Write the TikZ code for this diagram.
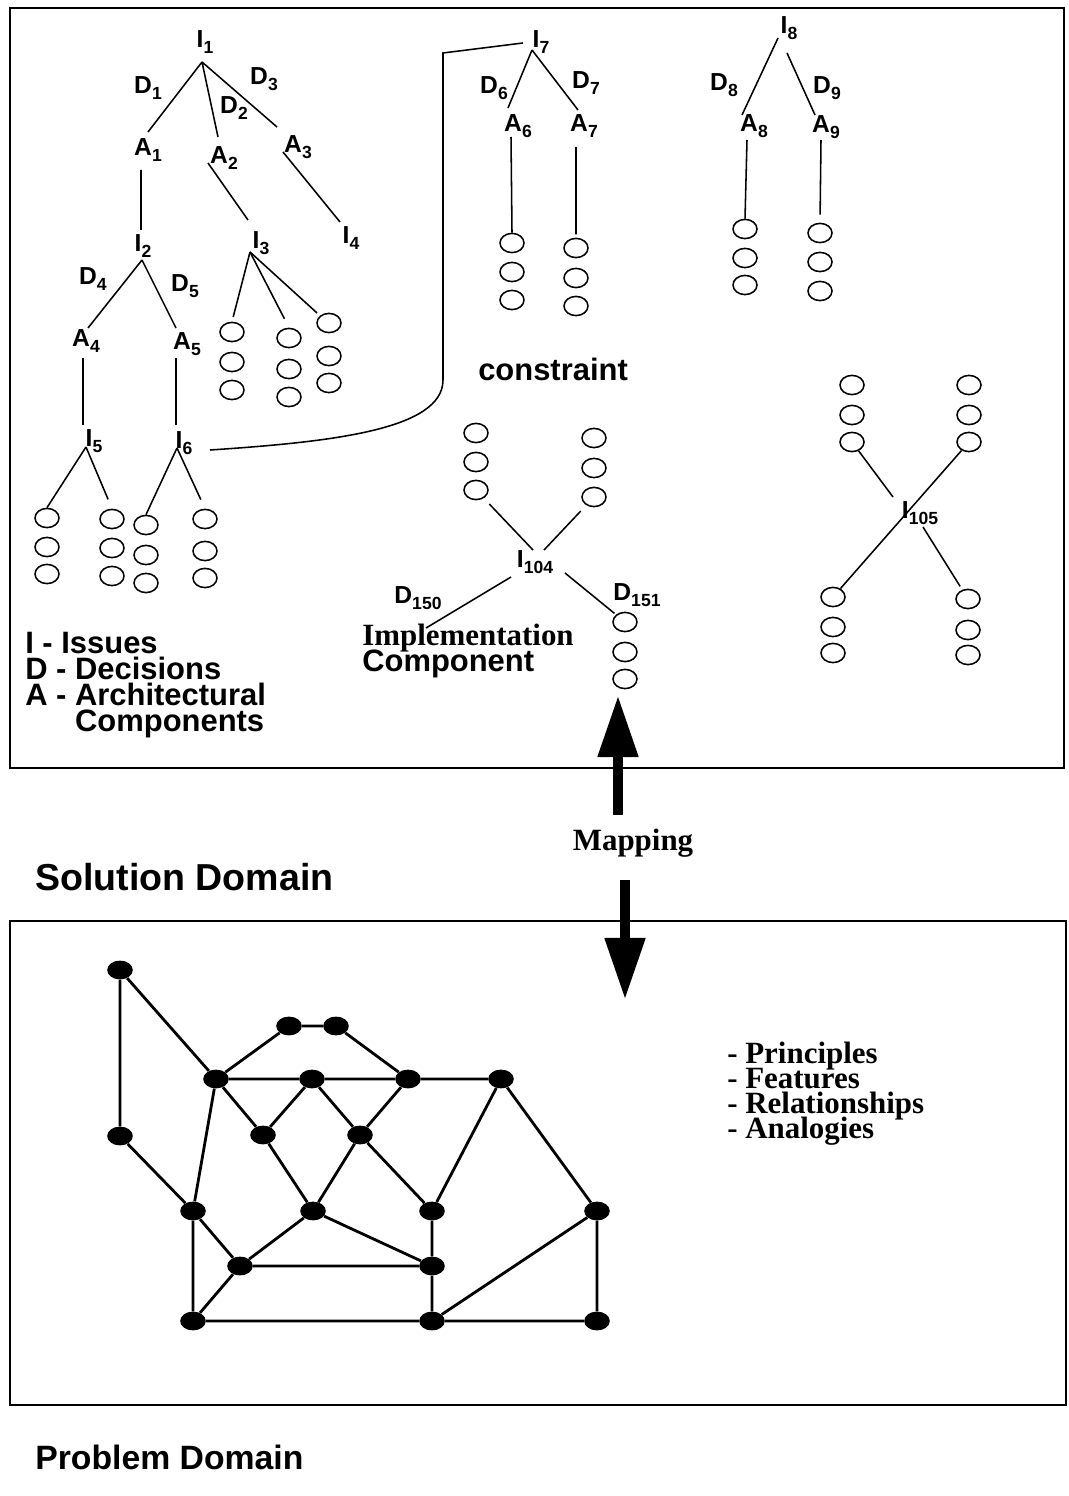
\documentclass[tikz,border=0pt]{standalone}
\usepackage{fontspec}
\setmainfont{Liberation Serif}
\setsansfont{Liberation Sans}
\usepackage{tikz}
\usetikzlibrary{positioning}
\usetikzlibrary{shapes.geometric, arrows.meta}
\newcommand{\sbs}[1]{\raisebox{-0.45ex}{\fontsize{12.5pt}{12.5pt}\selectfont #1}}
% three small rings one above the other
\newcommand{\stk}[5]{%
\node[ring] (#1a) at (#2,#3) {};
\node[ring] (#1b) at (#2,#4) {};
\node[ring] (#1c) at (#2,#5) {};}
\tikzstyle{lbl} = [font=\sffamily\bfseries\fontsize{17.5pt}{17.5pt}\selectfont, inner sep=0pt]
\tikzstyle{ring} = [ellipse, draw, line width=1.1pt, minimum width=0.6cm, minimum height=0.48cm, inner sep=0pt]
\tikzstyle{dot} = [ellipse, fill=black, minimum width=0.64cm, minimum height=0.47cm, inner sep=0pt]
\tikzstyle{link} = [line width=1.1pt]
\tikzstyle{edge} = [line width=2pt]
\tikzstyle{txt} = [font=\sffamily\bfseries\fontsize{22pt}{22pt}\selectfont, inner sep=0pt, anchor=west]
\tikzstyle{serif} = [font=\rmfamily\bfseries\fontsize{22pt}{22pt}\selectfont, inner sep=0pt, anchor=west]
\tikzstyle{block} = [inner sep=0pt, anchor=north west, align=left]
\tikzstyle{fat} = [line width=7.8pt, -{Triangle[length=1.55cm, width=0.95cm]}]

\begin{document}
\lineskiplimit=-30pt
\begin{tikzpicture}[x=0.025cm, y=-0.025cm]
\useasboundingbox (0,0) rectangle (1069,1496);
\draw[line width=1.4pt] (10,8) rectangle (1064,768);
\draw[line width=1.4pt] (10,921) rectangle (1066,1405);

% first tree
\node[lbl] (I1) at (205,42) {I\sbs{1}};
\node[lbl] (D1) at (148,88) {D\sbs{1}};
\node[lbl] (D2) at (234,108) {D\sbs{2}};
\node[lbl] (D3) at (264,79) {D\sbs{3}};
\node[lbl] (A1) at (148,150) {A\sbs{1}};
\node[lbl] (A2) at (224,158) {A\sbs{2}};
\node[lbl] (A3) at (298,147) {A\sbs{3}};
\node[lbl] (I2) at (143,246) {I\sbs{2}};
\node[lbl] (I3) at (261,243) {I\sbs{3}};
\node[lbl] (I4) at (351,238) {I\sbs{4}};
\node[lbl] (D4) at (93,279) {D\sbs{4}};
\node[lbl] (D5) at (185,286) {D\sbs{5}};
\node[lbl] (A4) at (86,341) {A\sbs{4}};
\node[lbl] (A5) at (187,344) {A\sbs{5}};
\node[lbl] (I5) at (94,441) {I\sbs{5}};
\node[lbl] (I6) at (184,443) {I\sbs{6}};
\coordinate (I1b) at (202,62);
\coordinate (A1t) at (148,132);
\coordinate (A1b) at (141,170);
\coordinate (A2t) at (218,137);
\coordinate (A2b) at (208,163);
\coordinate (A3t) at (277,127);
\coordinate (A3b) at (283,152);
\coordinate (I2t) at (141,230);
\coordinate (I2b) at (142,260);
\coordinate (I3t) at (248,220);
\coordinate (I3b) at (250,252);
\coordinate (I4t) at (340,222);
\coordinate (A4t) at (88,328);
\coordinate (A4b) at (83,358);
\coordinate (A5t) at (176,328);
\coordinate (A5b) at (176,358);
\coordinate (I5t) at (83,425);
\coordinate (I5b) at (86,447);
\coordinate (I6t) at (176,425);
\coordinate (I6b) at (177,448);
\stk{c31}{232}{332}{362}{390}
\stk{c32}{289}{338}{369}{397}
\stk{c33}{329}{323}{356}{383}
\stk{c51}{47}{518}{547}{574}
\stk{c52}{112}{519}{548}{576}
\stk{c61}{146}{525}{555}{583}
\stk{c62}{205}{519}{551}{578}
\draw[link] (I1b) -- (A1t) (I1b) -- (A2t) (I1b) -- (A3t);
\draw[link] (A1b) -- (I2t) (A2b) -- (I3t) (A3b) -- (I4t);
\draw[link] (I2b) -- (A4t) (I2b) -- (A5t);
\draw[link] (A4b) -- (I5t) (A5b) -- (I6t);
\draw[link, shorten >=0.12cm] (I3b) -- (c31a.north);
\draw[link, shorten >=0.25cm] (I3b) -- (c32a.north);
\draw[link, shorten >=0.1cm] (I3b) -- (c33a.north west);
\draw[link, shorten >=0.25cm] (I5b) -- (c51a.north) (I5b) -- (c52a.north);
\draw[link, shorten >=0.25cm] (I6b) -- (c61a.north) (I6b) -- (c62a.north);

% constraint
\node[lbl] (I7) at (541,42) {I\sbs{7}};
\coordinate (I7l) at (523,43);
\coordinate (I6r) at (210,450);
\draw[link] (I6r) .. controls (330,442) and (443,430) .. (443,380) -- (443,53) -- (I7l);
\node[txt] (cons) at (478,369) {constraint};

% second tree
\node[lbl] (D6) at (494,88) {D\sbs{6}};
\node[lbl] (D7) at (586,83) {D\sbs{7}};
\node[lbl] (A6) at (518,126) {A\sbs{6}};
\node[lbl] (A7) at (584,126) {A\sbs{7}};
\coordinate (I7b) at (532,50);
\coordinate (A6t) at (508,108);
\coordinate (A7t) at (578,110);
\coordinate (A6b) at (511,137);
\coordinate (A7b) at (576,147);
\stk{ca6}{512}{243}{272}{300}
\stk{ca7}{576}{248}{278}{306}
\draw[link] (I7b) -- (A6t) (I7b) -- (A7t);
\draw[link, shorten >=0.08cm] (A6b) -- (ca6a.north) (A7b) -- (ca7a.north);

% third tree
\node[lbl] (I8) at (789,28) {I\sbs{8}};
\node[lbl] (D8) at (724,85) {D\sbs{8}};
\node[lbl] (D9) at (827,88) {D\sbs{9}};
\node[lbl] (A8) at (754,126) {A\sbs{8}};
\node[lbl] (A9) at (826,127) {A\sbs{9}};
\coordinate (I8b) at (778,38);
\coordinate (I8r) at (787,53);
\coordinate (A8t) at (742,115);
\coordinate (A9t) at (815,115);
\coordinate (A8b) at (747,140);
\coordinate (A9b) at (821,140);
\stk{ca8}{745}{229}{258}{285}
\stk{ca9}{820}{233}{262}{291}
\draw[link] (I8b) -- (A8t) (I8r) -- (A9t);
\draw[link, shorten >=0.2cm] (A8b) -- (ca8a.north) (A9b) -- (ca9a.north);

% I104
\node[lbl] (I104) at (535,562) {I\sbs{104}};
\node[lbl] (D150) at (418,598) {D\sbs{150}};
\node[lbl] (D151) at (637,595) {D\sbs{151}};
\stk{cq1}{476}{433}{462}{490}
\stk{cq2}{594}{438}{468}{497}
\stk{cq3}{625}{622}{652}{679}
\coordinate (q1) at (533,550);
\coordinate (q2) at (544,550);
\coordinate (q3) at (511,577);
\coordinate (q4) at (426,628);
\coordinate (q5) at (565,573);
\draw[link, shorten <=0.2cm] (cq1c) -- (q1);
\draw[link, shorten <=0.2cm] (cq2c) -- (q2);
\draw[link] (q3) -- (q4);
\draw[link, shorten >=0.05cm] (q5) -- (cq3a);
\node[block, font=\bfseries\fontsize{22pt}{18.5pt}\selectfont] (imp) at (362,624)
  {\rmfamily Implementation\\\sffamily Component};

% I105
\node[lbl] (I105) at (920,513) {I\sbs{105}};
\stk{cx1}{852}{385}{415}{442}
\stk{cx2}{969}{385}{415}{442}
\stk{cx3}{833}{597}{627}{653}
\stk{cx4}{968}{599}{630}{655}
\coordinate (x1) at (893,497);
\coordinate (x2) at (923,527);
\draw[link] (cx1c) -- (x1);
\draw[link] (cx2c) -- (cx3a);
\draw[link, shorten >=0.1cm] (x2) -- (cx4a);

% legend
\node[block, font=\sffamily\bfseries\fontsize{22pt}{18.5pt}\selectfont] (legend) at (25,632)
  {I - Issues\\D - Decisions\\A - Architectural\\\phantom{A - }Components};

% mapping
\node[serif, anchor=center] (map) at (633,843) {Mapping};
\coordinate (mu1) at (618,815);
\coordinate (mu2) at (618,695);
\coordinate (md1) at (625,880);
\coordinate (md2) at (625,1000);
\draw[fat] (mu1) -- (mu2);
\draw[fat] (md1) -- (md2);
\node[font=\sffamily\bfseries\fontsize{26.7pt}{26.7pt}\selectfont, inner sep=0pt, anchor=west] (sol) at (35,877) {Solution Domain};
\node[font=\sffamily\bfseries\fontsize{24pt}{24pt}\selectfont, inner sep=0pt, anchor=west] (prob) at (35,1457) {Problem Domain};

% problem graph
\node[dot] (n1) at (120,970) {};
\node[dot] (n2) at (120,1136) {};
\node[dot] (n3) at (289,1026) {};
\node[dot] (n4) at (336,1026) {};
\node[dot] (n5) at (216,1079) {};
\node[dot] (n6) at (312,1079) {};
\node[dot] (n7) at (408,1079) {};
\node[dot] (n8) at (501,1079) {};
\node[dot] (n9) at (263,1135) {};
\node[dot] (n10) at (360,1135) {};
\node[dot] (n11) at (193,1211) {};
\node[dot] (n12) at (313,1211) {};
\node[dot] (n13) at (432,1211) {};
\node[dot] (n14) at (597,1211) {};
\node[dot] (n15) at (240,1266) {};
\node[dot] (n16) at (432,1266) {};
\node[dot] (n17) at (193,1321) {};
\node[dot] (n18) at (432,1321) {};
\node[dot] (n19) at (597,1321) {};
\draw[edge] (n1) -- (n2) (n1) -- (n5) (n2) -- (n11) (n3) -- (n4) (n3) -- (n5)
  (n4) -- (n7) (n5) -- (n6) (n6) -- (n7) (n7) -- (n8) (n5) -- (n9) (n5) -- (n11)
  (n6) -- (n9) (n6) -- (n10) (n7) -- (n10) (n9) -- (n12) (n10) -- (n12)
  (n10) -- (n13) (n8) -- (n13) (n8) -- (n14) (n11) -- (n15) (n11) -- (n17)
  (n12) -- (n15) (n12) -- (n16) (n13) -- (n16) (n15) -- (n16) (n15) -- (n17)
  (n16) -- (n18) (n17) -- (n18) (n18) -- (n19) (n18) -- (n14) (n14) -- (n19);
\node[block, font=\rmfamily\bfseries\fontsize{22pt}{17.8pt}\selectfont] (princ) at (727,1042)
  {- Principles\\- Features\\- Relationships\\- Analogies};
\end{tikzpicture}
\end{document}
